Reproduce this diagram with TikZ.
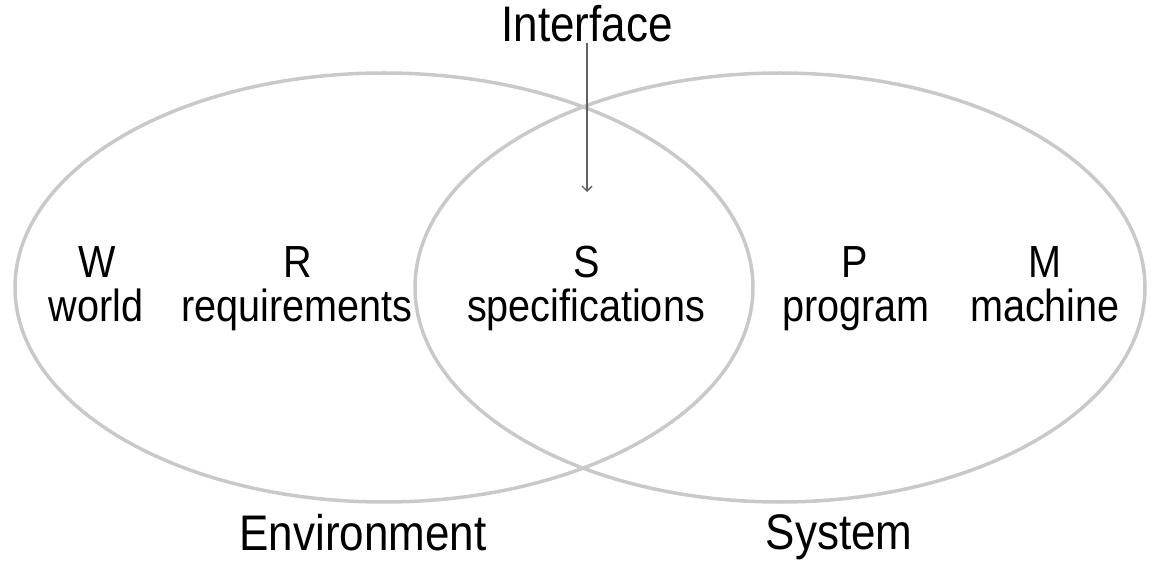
\documentclass[tikz,border=0pt]{standalone}
\usepackage{fontspec}
\setmainfont{Liberation Sans}
\usetikzlibrary{shapes.geometric,arrows.meta}
\newcommand{\lbltxt}[1]{\scalebox{0.88}[1]{#1}}
\begin{document}
\begin{tikzpicture}[x=1pt,y=-1pt,
  setbox/.style={ellipse, draw=black!21, line width=3.5pt, inner sep=0pt},
  biglbl/.style={anchor=base, inner sep=0pt, font=\fontsize{50}{60}\selectfont},
  smalllbl/.style={anchor=base, inner sep=0pt, font=\fontsize{45}{54}\selectfont},
  pointer/.style={draw=black!62, line width=1.4pt, -{Straight Barb[length=5pt,width=10pt,line width=1.4pt]}}
]
\useasboundingbox (0,0) rectangle (1152,561);
\node[setbox, minimum width=738pt, minimum height=429pt] (env) at (384,287.5) {};
\node[setbox, minimum width=730pt, minimum height=429pt] (sys) at (780,287.5) {};

\node[biglbl] (interface) at (587,42) {\lbltxt{Interface}};
\node[biglbl] (environment) at (363,550) {\lbltxt{Environment}};
\node[biglbl] (system) at (839,549) {\lbltxt{System}};

\node[smalllbl] (W) at (97,278) {\lbltxt{W}};
\node[smalllbl] (world) at (96,322) {\lbltxt{world}};
\node[smalllbl] (R) at (298,278) {\lbltxt{R}};
\node[smalllbl] (req) at (297,322) {\lbltxt{requirements}};
\node[smalllbl] (S) at (587,278) {\lbltxt{S}};
\node[smalllbl] (spec) at (586,322) {\lbltxt{specifications}};
\node[smalllbl] (P) at (855,278) {\lbltxt{P}};
\node[smalllbl] (prog) at (856,322) {\lbltxt{program}};
\node[smalllbl] (M) at (1045,278) {\lbltxt{M}};
\node[smalllbl] (mach) at (1045,322) {\lbltxt{machine}};

\coordinate (ifaceend) at (587,192);
\draw[pointer] (interface.south) -- (ifaceend);
\end{tikzpicture}
\end{document}
